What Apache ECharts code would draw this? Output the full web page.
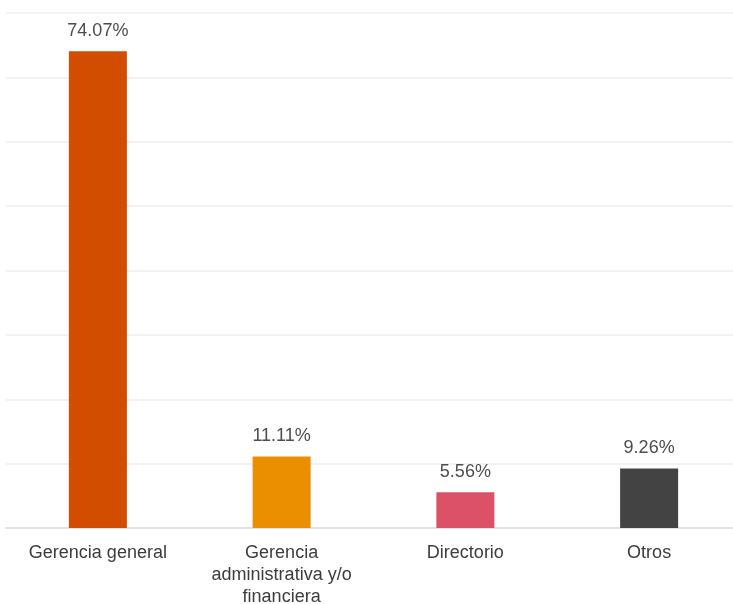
<!DOCTYPE html>
<html>
<head>
<meta charset="utf-8">
<script src="https://cdn.jsdelivr.net/npm/echarts@6/dist/echarts.min.js"></script>
<style>
  html, body { margin: 0; padding: 0; background: #fff; }
  #chart { width: 733px; height: 604px; }
</style>
</head>
<body>
<div id="chart"></div>
<script>
// categorías y valores (%)
const categories = ["Gerencia general", "Gerencia\nadministrativa y/o\nfinanciera", "Directorio", "Otros"];
const values = [74.07, 11.11, 5.56, 9.26];
const barColors = ["#D24D00", "#EB8F00", "#DC5068", "#434343"];

const myChart = echarts.init(document.getElementById("chart"));

const option = {
  animation: false,
  grid: { left: 6, width: 735, top: 13, bottom: 76, outerBoundsMode: "none", containLabel: false },
  xAxis: {
    type: "category",
    data: categories,
    axisTick: { show: false },
    axisLine: { lineStyle: { color: "#e3e3e3", width: 2 } },
    axisLabel: {
      color: "#3c3c3c",
      fontSize: 18,
      fontFamily: "Liberation Sans, Arial, sans-serif",
      lineHeight: 22,
      margin: 14,
      interval: 0
    }
  },
  yAxis: {
    type: "value",
    min: 0,
    max: 80,
    interval: 10,
    axisLabel: { show: false },
    axisLine: { show: false },
    axisTick: { show: false },
    splitLine: { lineStyle: { color: "#f2f2f2", width: 2 } }
  },
  series: [
    {
      type: "bar",
      barWidth: 58,
      data: values.map((v, i) => ({ value: v, itemStyle: { color: barColors[i] } })),
      label: {
        show: true,
        position: "top",
        distance: 11,
        color: "#4d4d4d",
        fontSize: 18,
        fontFamily: "Liberation Sans, Arial, sans-serif",
        formatter: p => p.value.toFixed(2) + "%"
      }
    }
  ]
};

myChart.setOption(option);
</script>
</body>
</html>
